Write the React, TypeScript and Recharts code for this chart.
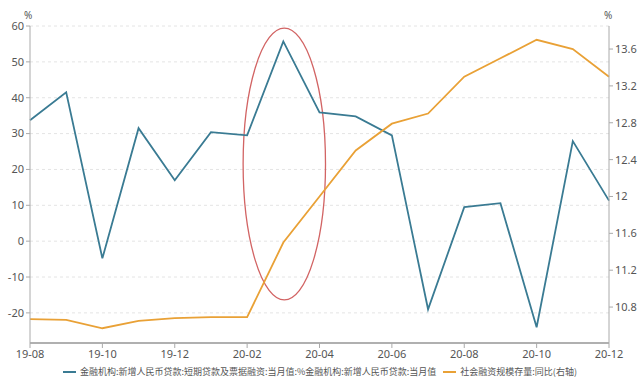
import React from 'react';
import { LineChart, Line, XAxis, YAxis, CartesianGrid, ReferenceArea } from 'recharts';

const months = ['19-08','19-09','19-10','19-11','19-12','20-01','20-02','20-03','20-04','20-05','20-06','20-07','20-08','20-09','20-10','20-11','20-12'];
const shortLoanShare = [33.7,41.5,-4.8,31.5,17.0,30.4,29.5,55.7,35.9,34.8,29.5,-19.0,9.5,10.6,-24.0,27.9,11.3];
const tsfGrowth = [10.67,10.66,10.57,10.65,10.68,10.69,10.69,11.50,12.0,12.5,12.79,12.9,13.3,13.5,13.7,13.6,13.3];
const leftTicks = [-20,-10,0,10,20,30,40,50,60];
const rightTicks = [10.8,11.2,11.6,12,12.4,12.8,13.2,13.6];
const xTicks = ['19-08','19-10','19-12','20-02','20-04','20-06','20-08','20-10','20-12'];
const seriesNames = ['金融机构:新增人民币贷款:短期贷款及票据融资:当月值:%金融机构:新增人民币贷款:当月值','社会融资规模存量:同比(右轴)'];
const highlight = { x1: '20-02', x2: '20-04', y1: -16.4, y2: 59.4 };

const BLUE = '#3a7b93';
const ORANGE = '#e9a136';
const FONT = '"Noto Sans", "Noto Sans CJK SC", sans-serif';

const data = months.map((m, i) => ({ m, a: shortLoanShare[i], b: tsfGrowth[i] }));

const Ellipse = (props: any) => {
  const { x, y, width, height } = props;
  return (
    <ellipse cx={x + width / 2 + 1} cy={y + height / 2} rx={width / 2 + 5} ry={height / 2} fill="none" stroke="#d26464" strokeWidth={1.3} />
  );
};

export default function App() {
  const tickStyle = { fontSize: 11, fill: '#555', fontFamily: FONT };
  return (
    <div style={{ position: 'absolute', left: 0, top: 0, width: 640, height: 383, background: '#fff', fontFamily: FONT }}>
      <LineChart width={640} height={383} data={data} margin={{ top: 26, right: 0, left: 0, bottom: 20 }}>
        <CartesianGrid yAxisId="l" vertical={false} stroke="#e4e4e4" strokeDasharray="3 3" />
        <XAxis dataKey="m" ticks={xTicks} interval={0} height={20} tick={tickStyle} tickSize={5} axisLine={{ stroke: '#b0b0b0', strokeWidth: 2 }} tickLine={{ stroke: '#aaa' }} />
        <YAxis yAxisId="l" orientation="left" width={30} type="number" domain={[-28.4, 60]} ticks={leftTicks} allowDataOverflow tick={tickStyle} tickSize={4} axisLine={{ stroke: '#aaa' }} tickLine={{ stroke: '#aaa' }} />
        <YAxis yAxisId="r" orientation="right" width={31} type="number" domain={[10.41, 13.85]} ticks={rightTicks} allowDataOverflow tick={tickStyle} tickSize={4} axisLine={{ stroke: '#aaa' }} tickLine={{ stroke: '#aaa' }} />
        <ReferenceArea yAxisId="l" x1={highlight.x1} x2={highlight.x2} y1={highlight.y1} y2={highlight.y2} shape={<Ellipse />} />
        <Line yAxisId="l" dataKey="a" stroke={BLUE} strokeWidth={1.8} dot={false} isAnimationActive={false} />
        <Line yAxisId="r" dataKey="b" stroke={ORANGE} strokeWidth={1.8} dot={false} isAnimationActive={false} />
      </LineChart>
      <div style={{ position: 'absolute', left: 24, top: 8, fontSize: 10, color: '#555' }}>%</div>
      <div style={{ position: 'absolute', left: 604, top: 8, fontSize: 10, color: '#555' }}>%</div>
      <div style={{ position: 'absolute', left: 0, width: 640, top: 365, display: 'flex', justifyContent: 'center', alignItems: 'center', fontSize: 9, color: '#555', fontFamily: '"Noto Sans CJK SC", sans-serif', whiteSpace: 'nowrap' }}>
        <span style={{ display: 'inline-block', width: 13, height: 2, background: BLUE, marginRight: 4 }} />
        <span>{seriesNames[0]}</span>
        <span style={{ display: 'inline-block', width: 13, height: 2, background: ORANGE, marginLeft: 7, marginRight: 4 }} />
        <span>{seriesNames[1]}</span>
      </div>
    </div>
  );
}
